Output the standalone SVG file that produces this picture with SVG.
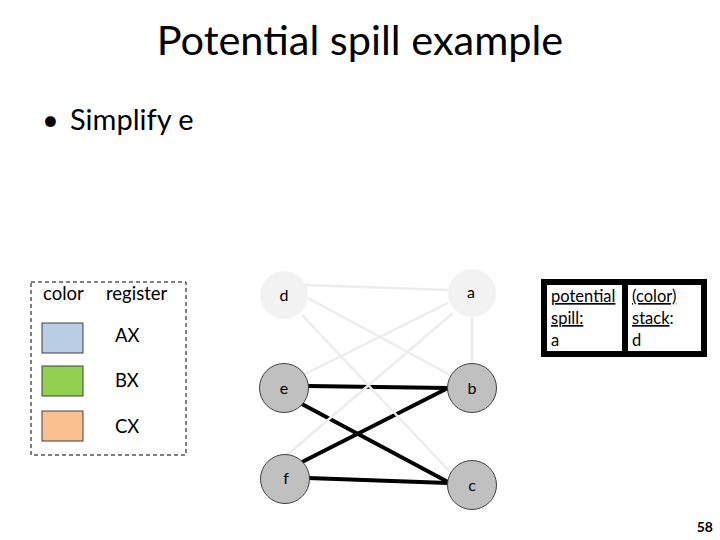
<svg xmlns="http://www.w3.org/2000/svg" width="720" height="540" viewBox="0 0 720 540">
<style>
text{font-family:Lato,"Liberation Sans",sans-serif;fill:#000}
.lbl{font-size:16px;text-anchor:middle}
.leg{font-size:18.5px}
.box{font-size:16.5px}
.blk{stroke:#000;stroke-width:3.8;fill:none}
.lt{stroke:#ececec;stroke-width:2.5;fill:none}
.n1{fill:#f2f2f2;stroke:none}
.n2{fill:#c0c0c0;stroke:#404040;stroke-width:1}
.sw{stroke:#404040;stroke-width:1}
</style>
<rect width="720" height="540" fill="#fff"/>
<text x="360" y="55" font-size="41.5" text-anchor="middle">Potential spill example</text>
<text x="42" y="130" font-size="29">•</text>
<text x="70" y="130" font-size="29">Simplify e</text>
<g id="legend">
<rect x="31" y="282" width="155" height="173" fill="none" stroke="#000" stroke-width="1" stroke-dasharray="4,3"/>
<text x="43" y="300" class="leg">color</text>
<text x="106" y="300" class="leg">register</text>
<rect x="42" y="323" width="41" height="30" fill="#b9cde5" class="sw"/>
<rect x="42" y="366" width="41" height="30" fill="#92d050" class="sw"/>
<rect x="42" y="411" width="41" height="30" fill="#fac090" class="sw"/>
<text x="115" y="342" class="leg">AX</text>
<text x="115" y="387" class="leg">BX</text>
<text x="115" y="433" class="leg">CX</text>
</g>
<g id="connectors">
<line x1="308" y1="386" x2="448" y2="388" class="blk"/>
<line x1="300" y1="403" x2="448" y2="482" class="blk"/>
<line x1="302" y1="462" x2="448" y2="388" class="blk"/>
<line x1="308" y1="478" x2="448" y2="483" class="blk"/>
<line x1="305" y1="285" x2="448" y2="290" class="lt"/>
<line x1="308" y1="298" x2="450" y2="375" class="lt"/>
<line x1="302" y1="315" x2="453" y2="475" class="lt"/>
<line x1="448" y1="303" x2="303" y2="375" class="lt"/>
<line x1="453" y1="313" x2="287" y2="455" class="lt"/>
<line x1="472" y1="317" x2="472" y2="365" class="lt"/>
</g>
<g id="node-d"><circle cx="284" cy="295" r="24" class="n1"/><text x="284" y="301" class="lbl">d</text></g>
<g id="node-a"><circle cx="472" cy="293" r="24" class="n1"/><text x="471" y="298" class="lbl">a</text></g>
<g id="node-e"><circle cx="284" cy="388" r="24.5" class="n2"/><text x="284" y="394" class="lbl">e</text></g>
<g id="node-b"><circle cx="472" cy="388" r="24.5" class="n2"/><text x="472" y="394" class="lbl">b</text></g>
<g id="node-f"><circle cx="285" cy="479" r="24.5" class="n2"/><text x="286" y="484" class="lbl">f</text></g>
<g id="node-c"><circle cx="472" cy="485" r="24.5" class="n2"/><text x="472" y="491" class="lbl">c</text></g>
<g id="info">
<rect x="541" y="279" width="166" height="78" fill="#000"/>
<rect x="547" y="285" width="75" height="66" fill="#fff"/>
<rect x="628" y="285" width="73" height="66" fill="#fff"/>
<text x="551" y="302" class="box" text-decoration="underline">potential</text>
<text x="551" y="324" class="box" text-decoration="underline">spill:</text>
<text x="551" y="346" class="box">a</text>
<text x="632" y="302" class="box" text-decoration="underline">(color)</text>
<text x="632" y="324" class="box"><tspan text-decoration="underline">stack</tspan>:</text>
<text x="632" y="346" class="box">d</text>
</g>
<text x="713" y="532" font-size="14" font-weight="bold" text-anchor="end">58</text>
</svg>
